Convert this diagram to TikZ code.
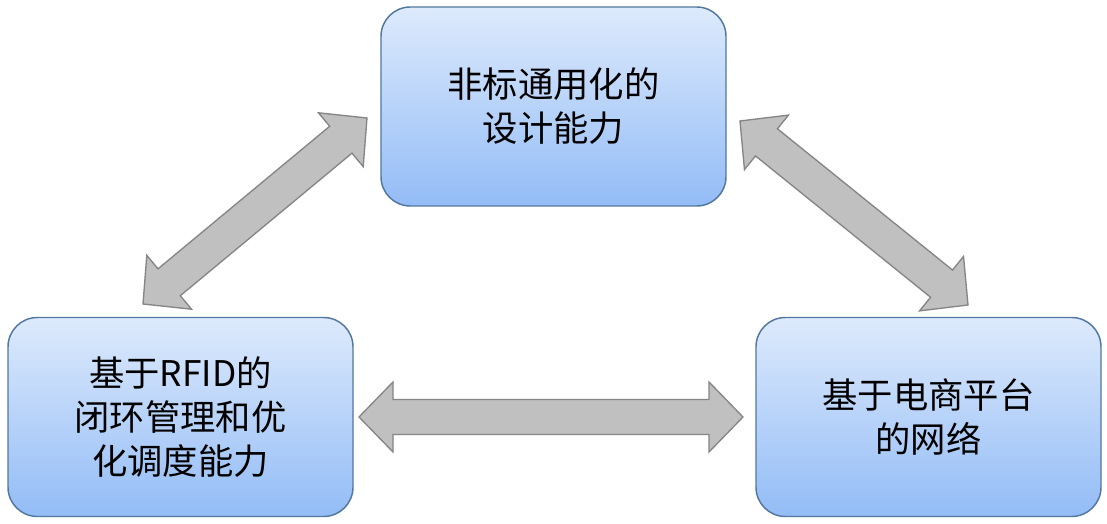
\documentclass[tikz,border=0pt]{standalone}
\usepackage{fontspec}
\setmainfont{Noto Sans CJK SC}
\usetikzlibrary{calc}
\definecolor{boxtop}{HTML}{DDEAFC}
\definecolor{boxbot}{HTML}{93BCF6}
\definecolor{boxline}{HTML}{52789F}
\definecolor{arrfill}{HTML}{C0C0C0}
\definecolor{arrline}{HTML}{858585}
\tikzset{
  stagebox/.style={draw=boxline, line width=1.1pt, rounded corners=22pt,
    top color=boxtop, bottom color=boxbot,
    minimum width=258.75pt, minimum height=149.25pt, inner sep=0pt,
    align=center, font=\fontsize{26.5}{33}\selectfont},
  fatarrow/.style={draw=arrline, fill=arrfill, line width=1pt, line join=miter},
}
\newcommand\fatdbl[2]{%
  \draw[fatarrow] (#1)
    -- ($(#1)!25.5pt!(#2)!26.25pt!90:(#2)$)
    -- ($(#1)!25.5pt!(#2)!13.1pt!90:(#2)$)
    -- ($(#2)!25.5pt!(#1)!13.1pt!-90:(#1)$)
    -- ($(#2)!25.5pt!(#1)!26.25pt!-90:(#1)$)
    -- (#2)
    -- ($(#2)!25.5pt!(#1)!26.25pt!90:(#1)$)
    -- ($(#2)!25.5pt!(#1)!13.1pt!90:(#1)$)
    -- ($(#1)!25.5pt!(#2)!13.1pt!-90:(#2)$)
    -- ($(#1)!25.5pt!(#2)!26.25pt!-90:(#2)$)
    -- cycle;}
\begin{document}
\begin{tikzpicture}[x=0.75pt,y=-0.75pt]
  \fill[white] (0,0) rectangle (1107,524);
  \useasboundingbox (0,0) rectangle (1107,524);
  \node[stagebox] (top) at (553.5,106.5) {非标通用化的\\设计能力};
  \node[stagebox] (left) at (180.5,417) {基于RFID的\\闭环管理和优\\化调度能力};
  \node[stagebox] (right) at (928.5,417) {基于电商平台\\的网络};
  \coordinate (lA) at (143,304);
  \coordinate (lB) at (367,118);
  \coordinate (rA) at (740,121);
  \coordinate (rB) at (968,305);
  \coordinate (hA) at (359,417);
  \coordinate (hB) at (743,417);
  \fatdbl{lA}{lB}
  \fatdbl{rA}{rB}
  \fatdbl{hA}{hB}
\end{tikzpicture}
\end{document}
